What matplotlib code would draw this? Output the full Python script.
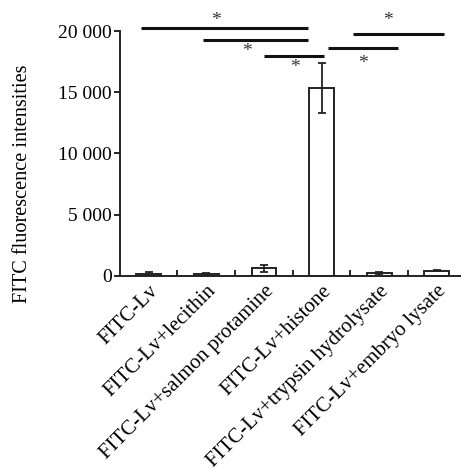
import numpy as np
import matplotlib.pyplot as plt
from matplotlib.ticker import FuncFormatter

plt.rcParams['font.family'] = ['Liberation Serif', 'DejaVu Serif']

groups = ["FITC-Lv", "FITC-Lv+lecithin", "FITC-Lv+salmon protamine",
          "FITC-Lv+histone", "FITC-Lv+trypsin hydrolysate", "FITC-Lv+embryo lysate"]
means = [190, 180, 630, 15370, 200, 430]
errors = [100, 80, 280, 2050, 110, 60]

# significance brackets: (x start, x end, y value, star x, star y)
sig_lines = [
    (-0.14, 2.77, 20250, 1.16, 20850),
    (0.94, 2.77, 19270, 1.71, 18300),
    (2.00, 3.05, 17960, 2.53, 17000),
    (3.12, 4.33, 18610, 3.72, 17320),
    (3.55, 5.13, 19780, 4.16, 20830),
]

fig = plt.figure(figsize=(4.61, 4.70), dpi=100)
ax = fig.add_axes([0.260, 0.413, 0.75, 0.521])

x = np.arange(len(groups))
ax.bar(x, means, width=0.43, color='white', edgecolor='#222222', linewidth=1.4,
       yerr=errors, error_kw=dict(ecolor='#222222', elinewidth=1.3, capsize=3, capthick=1.3))

for x0, x1, y, sx, sy in sig_lines:
    ax.plot([x0, x1], [y, y], color='#111111', lw=2.2, clip_on=False, solid_capstyle='butt')
    ax.text(sx, sy, '*', ha='center', va='center', fontsize=14, color='#333333', clip_on=False)

ax.set_xlim(-0.5, 5.45)
ax.set_ylim(0, 20000)
ax.set_yticks([0, 5000, 10000, 15000, 20000])
ax.yaxis.set_major_formatter(FuncFormatter(lambda v, p: f"{int(v):,}".replace(",", " ")))
ax.tick_params(axis='y', direction='out', length=4, width=1.2, labelsize=14, pad=2)

ax.set_xticks(x + 0.5, minor=False)
ax.set_xticklabels([])
ax.tick_params(axis='x', direction='in', length=4, width=1.2)
ax.set_xticks(x, minor=True)
ax.set_xticklabels(groups, minor=True, rotation=45, ha='right', rotation_mode='anchor', fontsize=15)
ax.tick_params(axis='x', which='minor', length=0, pad=4)

fig.text(0.048, 0.608, "FITC fluorescence intensities", rotation=90,
         ha='center', va='center', fontsize=14.6)

for s in ['top', 'right']:
    ax.spines[s].set_visible(False)
for s in ['left', 'bottom']:
    ax.spines[s].set_linewidth(1.4)
    ax.spines[s].set_color('#222222')

fig.savefig("out.png", dpi=100)
